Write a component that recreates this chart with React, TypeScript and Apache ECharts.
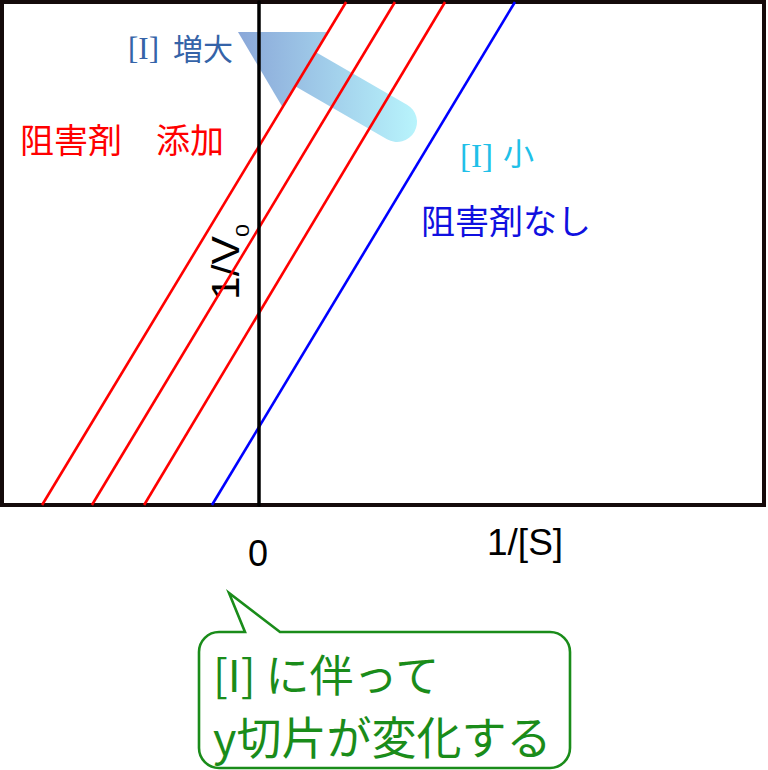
import React, { useEffect, useRef } from "react";
import * as echarts from "echarts";

// axis ranges (1/[S] horizontally, 1/V0 vertically)
const xMin = -1;
const xMax = 1.965;
const yMin = 0;
const yMax = 2;

// the four parallel lines: x where each meets the bottom (y=0) and the top (y=yMax)
const seriesNames = ["阻害剤なし", "阻害剤 添加 1", "阻害剤 添加 2", "阻害剤 添加 3"];
const xAtBottom = [-0.183, -0.447, -0.65, -0.844];
const xAtTop = [0.996, 0.724, 0.529, 0.339];
const seriesColors = ["#0000ff", "#ff0000", "#ff0000", "#ff0000"];

// texts
const labelZero = "0";
const labelX = "1/[S]";
const labelY = "1/V";
const labelYSub = "0";
const labelIncBracket = "[I]";
const labelInc = "増大";
const labelSmallBracket = "[I]";
const labelSmall = "小";
const labelWith = "阻害剤　添加";
const labelWithout = "阻害剤なし";
const bubbleLines = ["[I] に伴って", "y切片が変化する"];

const calloutPath =
  "M 219 632 L 245 632 L 229 593 L 280 632 L 550 632 C 561 632 570 641 570 652 L 570 748 C 570 759 561 768 550 768 L 219 768 C 208 768 199 759 199 748 L 199 652 C 199 641 208 632 219 632 Z";
echarts.graphic.registerShape("callout", echarts.graphic.extendPath(calloutPath, {}));

const SANS = '"Liberation Sans", Arial, sans-serif';
const SERIF = '"Liberation Serif", "Times New Roman", serif';
const CJK = '"Noto Sans CJK JP", "Noto Sans", sans-serif';

export default function App() {
  const ref = useRef<HTMLDivElement>(null);

  useEffect(() => {
    if (!ref.current) return;
    const chart = echarts.init(ref.current, null, { renderer: "svg" });

    const arrowFill = {
      type: "linear",
      x: 238,
      y: 0,
      x2: 417,
      y2: 0,
      global: true,
      colorStops: [
        { offset: 0, color: "#8aa7d8" },
        { offset: 1, color: "#b8f4fc" },
      ],
    };

    const green = "#1a8c1a";

    const option: any = {
      animation: false,
      backgroundColor: "#ffffff",
      grid: {
        left: 2,
        right: 4,
        top: 2,
        bottom: 265,
        show: true,
        borderColor: "#140a0a",
        borderWidth: 4,
        backgroundColor: "transparent",
        containLabel: false,
      },
      xAxis: {
        type: "value",
        min: xMin,
        max: xMax,
        axisLine: { show: false },
        axisTick: { show: false },
        axisLabel: { show: false },
        splitLine: { show: false },
      },
      yAxis: {
        type: "value",
        min: yMin,
        max: yMax,
        z: 10,
        axisLine: { show: true, onZero: true, lineStyle: { color: "#000000", width: 3.5 } },
        axisTick: { show: false },
        axisLabel: { show: false },
        splitLine: { show: false },
      },
      series: seriesNames.map((name, i) => ({
        name,
        type: "line",
        z: 5,
        symbol: "none",
        silent: true,
        data: [
          [xAtBottom[i], yMin],
          [xAtTop[i], yMax],
        ],
        lineStyle: { color: seriesColors[i], width: 2.6 },
      })),
      graphic: [
        // gradient arrow
        {
          type: "line",
          z: 1,
          shape: { x1: 300, y1: 66, x2: 397, y2: 122 },
          style: { stroke: arrowFill, lineWidth: 40, lineCap: "round" },
        },
        {
          type: "polygon",
          z: 1,
          shape: { points: [[238, 32], [327, 32], [283, 108]] },
          style: { fill: arrowFill },
        },
        // labels
        {
          type: "text",
          z: 1,
          style: { text: labelIncBracket, x: 128, y: 48, fill: "#3563a8", font: `31px ${SERIF}`, textAlign: "left", textVerticalAlign: "middle" },
        },
        {
          type: "text",
          z: 1,
          style: { text: labelInc, x: 173, y: 47, fill: "#3563a8", font: `30px ${CJK}`, textAlign: "left", textVerticalAlign: "middle" },
        },
        {
          type: "text",
          z: 1,
          style: { text: labelWith, x: 20, y: 138, fill: "#ff0000", font: `34px ${CJK}`, textAlign: "left", textVerticalAlign: "middle" },
        },
        {
          type: "text",
          z: 1,
          style: { text: labelSmallBracket, x: 460, y: 156, fill: "#20c0e8", font: `33px ${SERIF}`, textAlign: "left", textVerticalAlign: "middle" },
        },
        {
          type: "text",
          z: 1,
          style: { text: labelSmall, x: 503, y: 151, fill: "#20c0e8", font: `31px ${CJK}`, textAlign: "left", textVerticalAlign: "middle" },
        },
        {
          type: "text",
          z: 1,
          style: { text: labelWithout, x: 421, y: 219, fill: "#1010e0", font: `34px ${CJK}`, textAlign: "left", textVerticalAlign: "middle" },
        },
        // axis labels
        {
          type: "text",
          z: 1,
          x: 226,
          y: 300,
          rotation: Math.PI / 2,
          scaleX: 1.12,
          style: { text: labelY, x: 0, y: 0, fill: "#000000", font: `38px ${SANS}`, textAlign: "left", textVerticalAlign: "middle" },
        },
        {
          type: "text",
          z: 1,
          x: 243,
          y: 237,
          rotation: Math.PI / 2,
          scaleX: 1.3,
          style: { text: labelYSub, x: 0, y: 0, fill: "#000000", font: `18px ${SANS}`, textAlign: "left", textVerticalAlign: "middle" },
        },
        {
          type: "text",
          z: 1,
          style: { text: labelZero, x: 258, y: 553, fill: "#000000", font: `36px ${SANS}`, textAlign: "center", textVerticalAlign: "middle" },
        },
        {
          type: "text",
          z: 1,
          style: { text: labelX, x: 487, y: 542, fill: "#000000", font: `37px ${SANS}`, textAlign: "left", textVerticalAlign: "middle" },
        },
        // callout bubble
        {
          type: "callout",
          z: 1,
          x: 0,
          y: 0,
          style: { fill: "#ffffff", stroke: green, lineWidth: 2.6 },
        },
        {
          type: "text",
          z: 2,
          style: { text: bubbleLines[0], x: 213, y: 673, fill: green, font: `44px ${CJK}`, textAlign: "left", textVerticalAlign: "middle" },
        },
        {
          type: "text",
          z: 2,
          style: { text: bubbleLines[1], x: 213, y: 735, fill: green, font: `45px ${CJK}`, textAlign: "left", textVerticalAlign: "middle" },
        },
      ],
    };

    chart.setOption(option);
    return () => chart.dispose();
  }, []);

  return (
    <div
      ref={ref}
      style={{ position: "absolute", left: 0, top: 0, width: 768, height: 770 }}
    />
  );
}
